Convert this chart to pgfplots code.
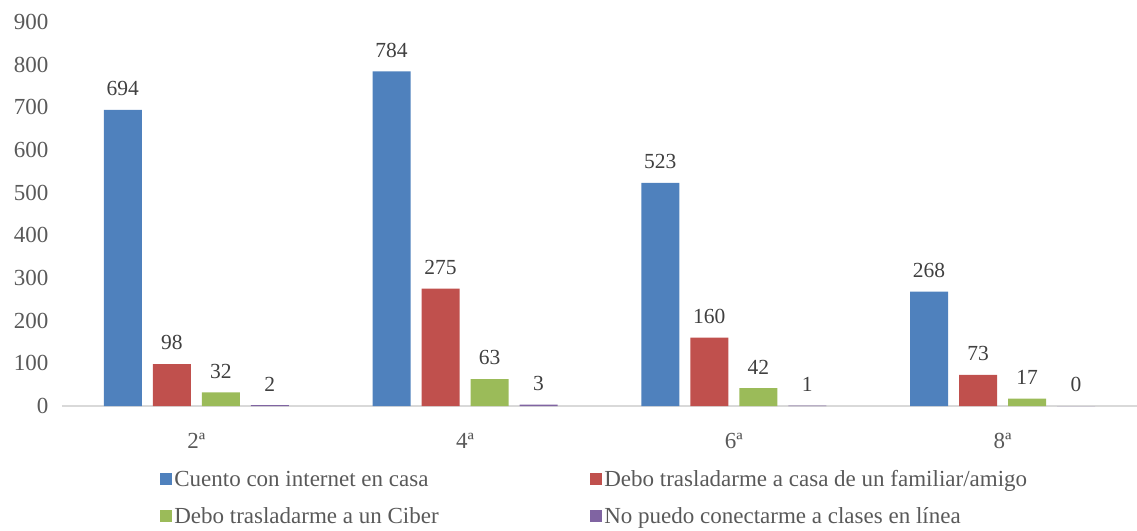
\documentclass[border=0pt]{standalone}
\usepackage{pgfplots}
\pgfplotsset{compat=1.18}
\usepackage{fontspec}
\setmainfont{Liberation Serif}
\definecolor{cblue}{HTML}{4F81BD}
\definecolor{cred}{HTML}{C0504D}
\definecolor{cgreen}{HTML}{9BBB59}
\definecolor{cpurple}{HTML}{8064A2}
\definecolor{txtgray}{HTML}{595959}
\definecolor{lblgray}{HTML}{404040}
\definecolor{axgray}{HTML}{D9D9D9}
\begin{document}
\begin{tikzpicture}
\useasboundingbox (0,0) rectangle (1137pt,530pt);
\begin{axis}[
  at={(62pt,124pt)}, anchor=south west,
  scale only axis, width=1075pt, height=384pt,
  ybar, bar width=38pt, ybar=11pt,
  xmin=-0.5, xmax=3.5, ymin=0, ymax=900,
  xtick={0,1,2,3}, xticklabels={2ª,4ª,6ª,8ª},
  ytick={0,100,...,900},
  axis lines*=left,
  y axis line style={draw=none},
  x axis line style={draw=axgray, line width=1.5pt, -},
  major tick length=0pt,
  /pgf/number format/assume math mode=true,
  tick label style={font=\fontsize{23}{27}\selectfont, text=txtgray},
  xticklabel style={yshift=-24pt},
  yticklabel style={xshift=-10pt},
  nodes near coords,
  nodes near coords style={font=\fontsize{21.5}{25}\selectfont, text=lblgray, yshift=10.5pt},
  legend columns=2,
  legend style={at={(0.0885,-0.157)}, anchor=north west, draw=none, fill=none,
    font=\fontsize{23}{27}\selectfont, text=txtgray, row sep=15pt,
    /tikz/every even column/.append style={column sep=0pt}},
  legend cell align=left,
  legend image code/.code={\fill[#1,draw=none] (0pt,-6pt) rectangle (12pt,6pt);},
]
\addplot[fill=cblue, draw=none] coordinates {(0,694) (1,784) (2,523) (3,268)};
\addplot[fill=cred, draw=none] coordinates {(0,98) (1,275) (2,160) (3,73)};
\addplot[fill=cgreen, draw=none] coordinates {(0,32) (1,63) (2,42) (3,17)};
\addplot[fill=cpurple, draw=none] coordinates {(0,2) (1,3) (2,1) (3,0)};
\legend{\makebox[414pt][l]{Cuento con internet en casa},Debo trasladarme a casa de un familiar/amigo,\makebox[414pt][l]{Debo trasladarme a un Ciber},No puedo conectarme a clases en línea}
\end{axis}
\end{tikzpicture}
\end{document}
